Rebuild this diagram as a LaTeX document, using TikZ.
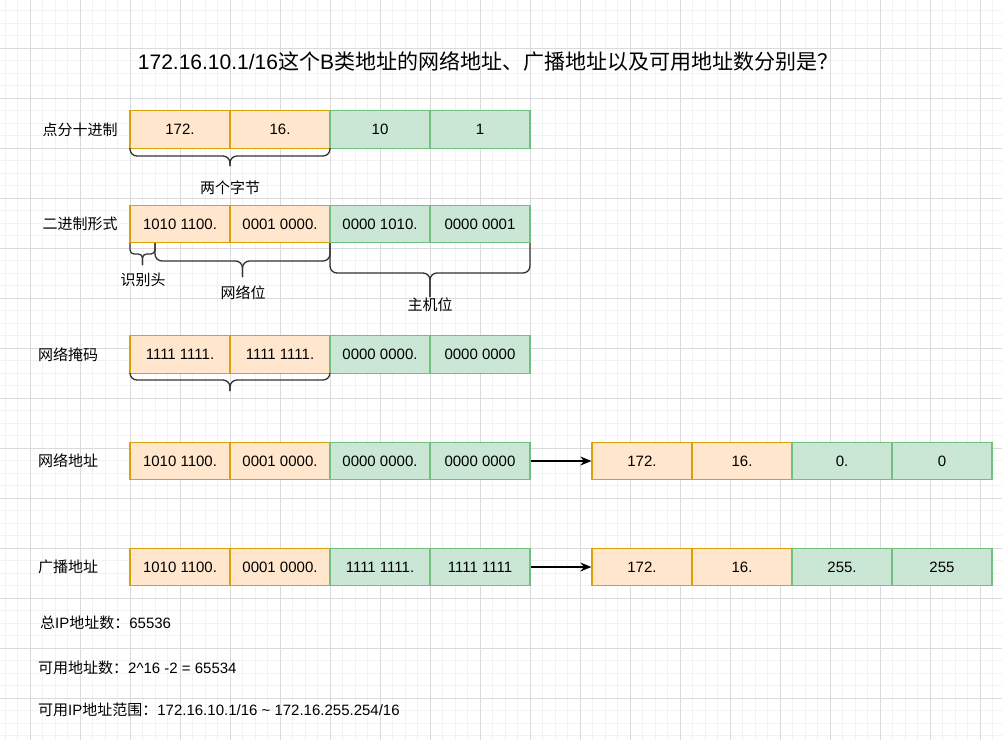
\documentclass[tikz,border=0pt]{standalone}
\usepackage{fontspec}
\setmainfont{Liberation Sans}
\newfontfamily\cjk{Noto Sans CJK SC}
\usetikzlibrary{arrows.meta}
\definecolor{ofill}{HTML}{FFE6CC}
\definecolor{odraw}{HTML}{DAA008}
\definecolor{gfill}{HTML}{CAE6D5}
\definecolor{gdraw}{HTML}{72BF80}
\definecolor{gridminor}{HTML}{F2F2F2}
\definecolor{gridmajor}{HTML}{DADADA}
\definecolor{brcol}{HTML}{333333}
\tikzset{
  cell/.style={minimum width=100pt, minimum height=37.5pt, inner sep=0pt, line width=1.3pt, font=\fontsize{15}{18}\selectfont},
  ocell/.style={cell, fill=ofill, draw=odraw},
  gcell/.style={cell, fill=gfill, draw=gdraw},
  lbl/.style={inner sep=0pt, font=\fontsize{15}{18}\selectfont},
  brc/.style={draw=brcol, line width=1.3pt, rounded corners=7pt},
  brcs/.style={draw=brcol, line width=1.3pt, rounded corners=4pt},
  arr/.style={draw=black, line width=1.3pt, -{Stealth[length=11pt,width=9pt]}}
}
\newcommand\cbrace[6]{% style, x1, x2, top, mid, tip
  \pgfmathsetmacro\xmid{(#2+#3)/2}
  \draw[#1] (#2,#4) -- (#2,#5) -- (\xmid,#5) -- (\xmid,#6);
  \draw[#1] (#3,#4) -- (#3,#5) -- (\xmid,#5) -- (\xmid,#6);
}
\begin{document}
\begin{tikzpicture}[x=1pt,y=-1pt]
\useasboundingbox (0,0) rectangle (1002,740);
\fill[white] (0,0) rectangle (1002,740);
\begin{scope}
\clip (0,0) rectangle (1002,740);
\foreach \i in {0,...,80} \draw[gridminor, line width=1pt] ({5+12.5*\i},0) -- ({5+12.5*\i},740);
\foreach \i in {0,...,60} \draw[gridminor, line width=1pt] (0,{-2+12.5*\i}) -- (1002,{-2+12.5*\i});
\foreach \i in {0,...,19} \draw[gridmajor, line width=1pt] ({30+50*\i},0) -- ({30+50*\i},740);
\foreach \i in {0,...,15} \draw[gridmajor, line width=1pt] (0,{-2+50*\i}) -- (1002,{-2+50*\i});
\end{scope}

% title
\node[inner sep=0pt, font=\fontsize{21}{24}\selectfont] (title) at (488,61) {172.16.10.1/16{\cjk 这个}B{\cjk 类地址的网络地址、广播地址以及可用地址数分别是？}};

% row 1
\node[lbl] (l1) at (80,130) {\cjk 点分十进制};
\node[ocell] (a1) at (180,129.5) {172.};
\node[ocell] (a2) at (280,129.5) {16.};
\node[gcell] (a3) at (380,129.5) {10};
\node[gcell] (a4) at (480,129.5) {1};
\cbrace{brc}{130}{330}{148}{156}{166}
\node[lbl] (t1) at (230,188) {\cjk 两个字节};

% row 2
\node[lbl] (l2) at (80,224) {\cjk 二进制形式};
\node[ocell] (b1) at (180,224) {1010 1100.};
\node[ocell] (b2) at (280,224) {0001 0000.};
\node[gcell] (b3) at (380,224) {0000 1010.};
\node[gcell] (b4) at (480,224) {0000 0001};
\cbrace{brcs}{130}{155}{243}{254}{265}
\cbrace{brc}{155}{330}{243}{261}{277}
\cbrace{brc}{330}{530}{243}{273}{297}
\node[lbl] (t2) at (143,280) {\cjk 识别头};
\node[lbl] (t3) at (243,293) {\cjk 网络位};
\node[lbl] (t4) at (430,305) {\cjk 主机位};

% row 3
\node[lbl] (l3) at (68,354.5) {\cjk 网络掩码};
\node[ocell] (c1) at (180,354.5) {1111 1111.};
\node[ocell] (c2) at (280,354.5) {1111 1111.};
\node[gcell] (c3) at (380,354.5) {0000 0000.};
\node[gcell] (c4) at (480,354.5) {0000 0000};
\cbrace{brc}{130}{330}{373}{380}{391}

% row 4
\node[lbl] (l4) at (68,461) {\cjk 网络地址};
\node[ocell] (d1) at (180,461) {1010 1100.};
\node[ocell] (d2) at (280,461) {0001 0000.};
\node[gcell] (d3) at (380,461) {0000 0000.};
\node[gcell] (d4) at (480,461) {0000 0000};
\node[ocell] (e1) at (642,461) {172.};
\node[ocell] (e2) at (742,461) {16.};
\node[gcell] (e3) at (842,461) {0.};
\node[gcell] (e4) at (942,461) {0};
\draw[arr] (d4.east) -- (e1.west);

% row 5
\node[lbl] (l5) at (68,567) {\cjk 广播地址};
\node[ocell] (f1) at (180,567) {1010 1100.};
\node[ocell] (f2) at (280,567) {0001 0000.};
\node[gcell] (f3) at (380,567) {1111 1111.};
\node[gcell] (f4) at (480,567) {1111 1111};
\node[ocell] (g1) at (642,567) {172.};
\node[ocell] (g2) at (742,567) {16.};
\node[gcell] (g3) at (842,567) {255.};
\node[gcell] (g4) at (942,567) {255};
\draw[arr] (f4.east) -- (g1.west);

% notes
\node[lbl, anchor=west] (n1) at (40,623) {{\cjk 总}IP{\cjk 地址数：}65536};
\node[lbl, anchor=west] (n2) at (38,668) {{\cjk 可用地址数：}2\^{}16 -2 = 65534};
\node[lbl, anchor=west] (n3) at (38,710) {{\cjk 可用}IP{\cjk 地址范围：}172.16.10.1/16 \textasciitilde{} 172.16.255.254/16};
\end{tikzpicture}
\end{document}
